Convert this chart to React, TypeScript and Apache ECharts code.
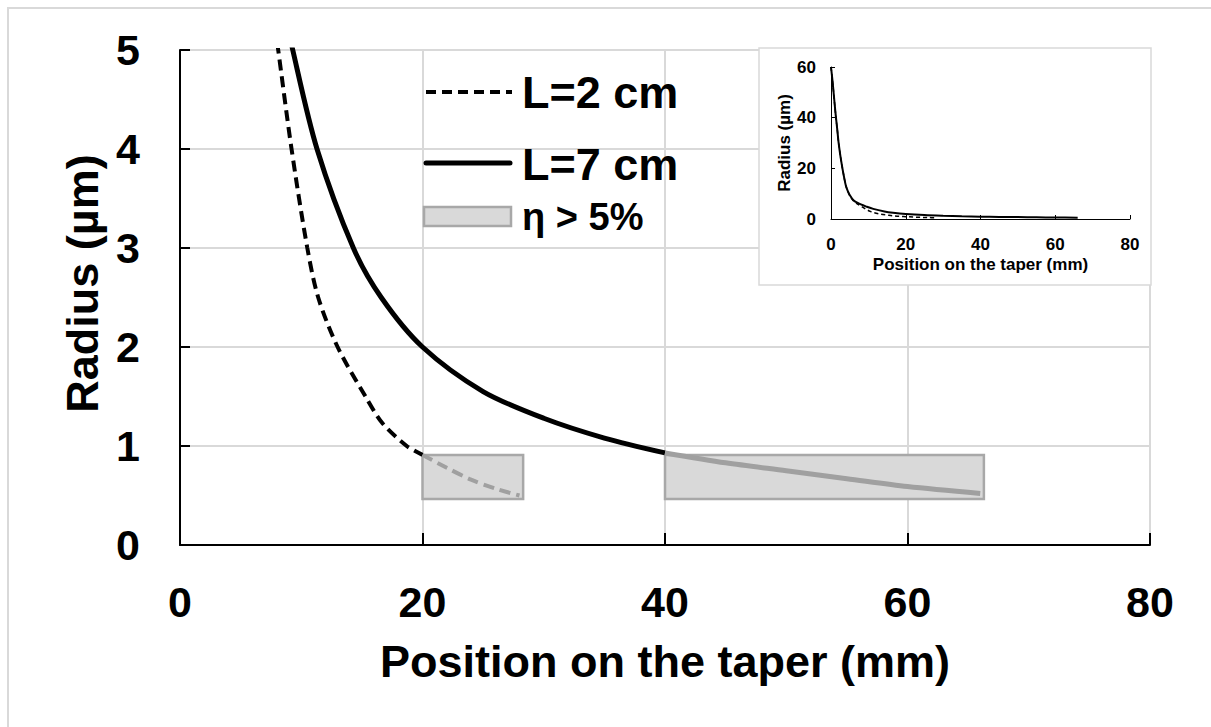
import React, { useEffect, useRef } from "react";
import * as echarts from "echarts";

// Curve L=7 cm (solid)
const posL7 = [0, 0.3, 0.6, 1, 1.33, 1.7, 2, 2.5, 3, 3.5, 4, 4.5, 5, 6, 7, 8, 9.3, 11.3, 14.3, 16.6, 20, 25, 30, 35, 40, 45, 50, 55, 60, 66];
const radL7 = [60, 56, 51.5, 45, 40, 35, 30.5, 25, 20.5, 16.5, 13, 11, 9.5, 7.4, 6.5, 5.75, 5, 4, 3, 2.5, 2.0, 1.55, 1.28, 1.08, 0.93, 0.83, 0.75, 0.67, 0.59, 0.52];
// Curve L=2 cm (dashed)
const posL2 = [0, 0.3, 0.6, 1, 1.33, 1.7, 2, 2.5, 3, 3.5, 4, 4.5, 5, 6, 7, 8.1, 9.2, 10.5, 11.4, 13, 15.3, 16.7, 18.7, 20, 22, 24, 26, 28];
const radL2 = [60, 56, 51.5, 45, 40, 35, 30.5, 25, 20.5, 16.5, 13, 11, 9.3, 7.2, 6, 5, 4, 3, 2.5, 2, 1.5, 1.23, 1.0, 0.91, 0.78, 0.66, 0.57, 0.5];
// Regions where efficiency > 5%
const etaStart = [20, 40];
const etaEnd = [28.3, 66.3];
const etaLow = 0.465;
const etaHigh = 0.91;
// Thresholds where curves enter the eta region (colour change)
const grayFromL2 = 20;
const grayFromL7 = 40;
// Axis ticks
const mainXTicks = [0, 20, 40, 60, 80];
const mainYTicks = [0, 1, 2, 3, 4, 5];
const insetYTicks = [0, 20, 40, 60];
const legendLabels = ["L=2 cm", "L=7 cm", "η > 5%"];

const FONT = "Liberation Sans";

export default function App() {
  const ref = useRef<HTMLDivElement>(null);
  useEffect(() => {
    document.body.style.margin = "0";
    document.body.style.overflow = "hidden";
    const chart = echarts.init(ref.current!, null, { renderer: "svg" });
    const l7 = posL7.map((x, i) => [x, radL7[i]]);
    const l2 = posL2.map((x, i) => [x, radL2[i]]);
    const l7Black = l7.filter((p) => p[0] <= grayFromL7);
    const l7Gray = l7.filter((p) => p[0] >= grayFromL7);
    const l2Black = l2.filter((p) => p[0] <= grayFromL2);
    const l2Gray = l2.filter((p) => p[0] >= grayFromL2);
    const rects = etaStart.map((s, i) => [s, etaEnd[i], etaLow, etaHigh]);

    const gray = "#a0a0a0";
    const gridGray = "#d9d9d9";

    const option: any = {
      animation: false,
      backgroundColor: "#fff",
      grid: [
        { left: 180, right: 61, top: 50, bottom: 182, outerBoundsMode: "none" },
        { left: 831, right: 81, top: 67, bottom: 508, outerBoundsMode: "none" },
      ],
      xAxis: [
        {
          type: "value",
          gridIndex: 0,
          min: mainXTicks[0],
          max: mainXTicks[mainXTicks.length - 1],
          interval: 20,
          name: "Position on the taper (mm)",
          nameLocation: "middle",
          nameGap: 94,
          nameTextStyle: { fontFamily: FONT, fontWeight: "bold", fontSize: 45, color: "#000" },
          axisLine: { show: true, lineStyle: { color: "#000", width: 2 } },
          axisTick: { show: true, inside: true, length: 12, lineStyle: { color: "#000", width: 2 } },
          axisLabel: { fontFamily: FONT, fontWeight: "bold", fontSize: 43, color: "#000", margin: 35 },
          splitLine: { show: true, lineStyle: { color: gridGray, width: 2 } },
        },
        {
          type: "value",
          gridIndex: 1,
          min: 0,
          max: 80,
          interval: 20,
          z: 4,
          name: "Position on the taper (mm)",
          nameLocation: "middle",
          nameGap: 37,
          nameTextStyle: { fontFamily: FONT, fontWeight: "bold", fontSize: 17, color: "#000" },
          axisLine: { show: true, lineStyle: { color: "#000", width: 1 } },
          axisTick: { show: true, inside: true, length: 4, lineStyle: { color: "#000", width: 1 } },
          axisLabel: { fontFamily: FONT, fontWeight: "bold", fontSize: 17, color: "#000", margin: 17 },
          splitLine: { show: false },
        },
      ],
      yAxis: [
        {
          type: "value",
          gridIndex: 0,
          min: mainYTicks[0],
          max: mainYTicks[mainYTicks.length - 1],
          interval: 1,
          name: "Radius (µm)",
          nameLocation: "middle",
          nameGap: 74,
          nameTextStyle: { fontFamily: FONT, fontWeight: "bold", fontSize: 45, color: "#000", padding: [0, 0, 0, 28] },
          axisLine: { show: true, lineStyle: { color: "#000", width: 2 } },
          axisTick: { show: true, inside: true, length: 10, lineStyle: { color: "#000", width: 2 } },
          axisLabel: { fontFamily: FONT, fontWeight: "bold", fontSize: 43, color: "#000", margin: 40 },
          splitLine: { show: true, lineStyle: { color: gridGray, width: 2 } },
        },
        {
          type: "value",
          gridIndex: 1,
          min: insetYTicks[0],
          max: insetYTicks[insetYTicks.length - 1],
          interval: 20,
          z: 4,
          name: "Radius (µm)",
          nameLocation: "middle",
          nameGap: 38,
          nameTextStyle: { fontFamily: FONT, fontWeight: "bold", fontSize: 17, color: "#000" },
          axisLine: { show: true, lineStyle: { color: "#000", width: 1 } },
          axisTick: { show: true, inside: true, length: 4, lineStyle: { color: "#000", width: 1 } },
          axisLabel: { fontFamily: FONT, fontWeight: "bold", fontSize: 17, color: "#000", margin: 15 },
          splitLine: { show: false },
        },
      ],
      series: [
        {
          type: "custom",
          name: legendLabels[2],
          xAxisIndex: 0,
          yAxisIndex: 0,
          z: 1,
          encode: { x: [0, 1], y: [2, 3] },
          data: rects,
          renderItem: (params: any, api: any) => {
            const p0 = api.coord([api.value(0), api.value(3)]);
            const p1 = api.coord([api.value(1), api.value(2)]);
            return {
              type: "rect",
              shape: { x: p0[0], y: p0[1], width: p1[0] - p0[0], height: p1[1] - p0[1] },
              style: { fill: "#d9d9d9", stroke: "#a8a8a8", lineWidth: 2.5 },
            };
          },
        },
        {
          type: "line",
          name: legendLabels[0],
          xAxisIndex: 0,
          yAxisIndex: 0,
          z: 3,
          data: l2Black,
          symbol: "none",
          smooth: 0.3,
          lineStyle: { color: "#000", width: 4, type: [11, 6] },
        },
        {
          type: "line",
          xAxisIndex: 0,
          yAxisIndex: 0,
          z: 3,
          data: l2Gray,
          symbol: "none",
          smooth: 0.3,
          lineStyle: { color: gray, width: 4, type: [11, 6] },
        },
        {
          type: "line",
          name: legendLabels[1],
          xAxisIndex: 0,
          yAxisIndex: 0,
          z: 3,
          data: l7Black,
          symbol: "none",
          smooth: 0.3,
          lineStyle: { color: "#000", width: 5 },
        },
        {
          type: "line",
          xAxisIndex: 0,
          yAxisIndex: 0,
          z: 3,
          data: l7Gray,
          symbol: "none",
          smooth: 0.3,
          lineStyle: { color: gray, width: 5 },
        },
        {
          type: "line",
          xAxisIndex: 1,
          yAxisIndex: 1,
          z: 5,
          data: l2,
          symbol: "none",
          smooth: 0.3,
          lineStyle: { color: "#000", width: 1.5, type: [4, 3] },
        },
        {
          type: "line",
          xAxisIndex: 1,
          yAxisIndex: 1,
          z: 5,
          data: l7,
          symbol: "none",
          smooth: 0.3,
          lineStyle: { color: "#000", width: 2 },
        },
      ],
      graphic: [
        {
          type: "rect",
          z: 0,
          shape: { x: 8, y: 8, width: 1300, height: 800 },
          style: { fill: "none", stroke: "#d9d9d9", lineWidth: 2 },
          silent: true,
        },
        {
          type: "rect",
          z: 3,
          shape: { x: 759, y: 48, width: 392, height: 237 },
          style: { fill: "#fff", stroke: "#d9d9d9", lineWidth: 1.5 },
          silent: true,
        },
        {
          type: "line",
          z: 6,
          shape: { x1: 426, y1: 92, x2: 512, y2: 92 },
          style: { stroke: "#000", lineWidth: 4, lineDash: [10, 6] },
        },
        {
          type: "line",
          z: 6,
          shape: { x1: 426, y1: 163, x2: 510, y2: 163 },
          style: { stroke: "#000", lineWidth: 5, lineCap: "round" },
        },
        {
          type: "rect",
          z: 6,
          shape: { x: 424, y: 207, width: 87, height: 19 },
          style: { fill: "#d9d9d9", stroke: "#a8a8a8", lineWidth: 2.5 },
        },
        {
          type: "text",
          z: 6,
          style: { text: legendLabels[0], x: 522, y: 92, fontFamily: FONT, fontWeight: "bold", fontSize: 45, fill: "#000", verticalAlign: "middle" },
        },
        {
          type: "text",
          z: 6,
          style: { text: legendLabels[1], x: 522, y: 164, fontFamily: FONT, fontWeight: "bold", fontSize: 45, fill: "#000", verticalAlign: "middle" },
        },
        {
          type: "text",
          z: 6,
          style: { text: legendLabels[2], x: 522, y: 217, fontFamily: FONT, fontWeight: "bold", fontSize: 38, fill: "#000", verticalAlign: "middle" },
        },
      ],
    };
    chart.setOption(option);
    return () => chart.dispose();
  }, []);
  return <div ref={ref} style={{ width: 1211, height: 727 }} />;
}
